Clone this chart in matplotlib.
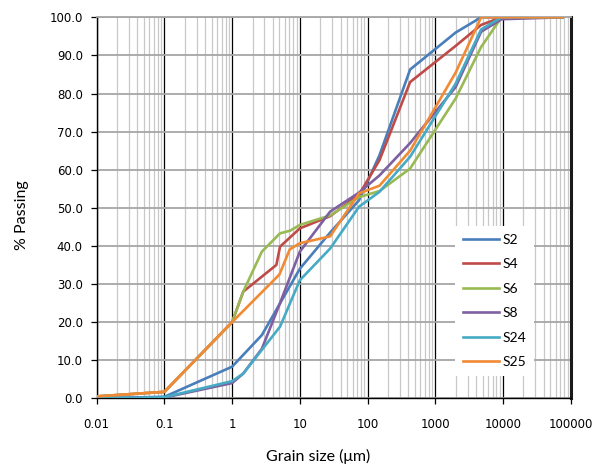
import numpy as np
import matplotlib.pyplot as plt
from matplotlib.ticker import LogLocator, FixedLocator, NullFormatter

# --- grading curves: grain size (um) vs % passing ---
x_s2 = [0.01, 0.1, 1, 2.75, 10, 28, 75, 150, 425, 2000, 4750, 9500, 75000]
y_s2 = [0.0, 0.4, 8.3, 16.6, 34.0, 43.5, 52.0, 63.8, 86.3, 96.0, 100, 100, 100]

x_s4 = [0.01, 0.1, 1, 1.46, 4.5, 5.1, 10, 28, 75, 150, 425, 2000, 4750, 9500, 75000]
y_s4 = [0.5, 1.7, 20.0, 28.0, 35.0, 39.8, 44.6, 47.8, 53.5, 62.5, 83.0, 92.5, 98.0, 100, 100]

x_s6 = [0.01, 0.1, 1, 1.46, 2.75, 5.1, 7.2, 10, 28, 75, 150, 425, 2000, 4750, 9500, 75000]
y_s6 = [0.5, 1.7, 20.0, 28.0, 38.5, 43.3, 44.0, 45.5, 48.0, 52.8, 54.4, 60.3, 78.7, 92.2, 100, 100]

x_s8 = [0.01, 0.1, 1, 1.46, 2.75, 5.1, 10, 28, 75, 150, 425, 2000, 4750, 9500, 75000]
y_s8 = [0.0, 0.2, 4.0, 6.5, 13.0, 25.0, 38.5, 49.0, 54.0, 58.5, 67.0, 81.7, 96.2, 99.5, 100]

x_s24 = [0.01, 0.1, 1, 1.46, 5.1, 10, 28, 75, 150, 425, 2000, 4750, 9500, 75000]
y_s24 = [0.0, 0.3, 4.5, 6.5, 18.8, 31.0, 39.3, 50.3, 54.2, 63.4, 82.6, 96.8, 100, 100]

x_s25 = [0.01, 0.1, 1, 5.0, 7.1, 10, 28, 75, 150, 425, 2000, 4750, 75000]
y_s25 = [0.5, 1.7, 20.0, 32.5, 39.1, 40.7, 42.5, 53.8, 55.8, 65.0, 85.5, 100, 100]

names = ['S2', 'S4', 'S6', 'S8', 'S24', 'S25']
colors = ['#4A7EBB', '#BE4B48', '#98B954', '#7E5FA0', '#46AAC5', '#F08A34']
series = [(x_s2, y_s2), (x_s4, y_s4), (x_s6, y_s6),
          (x_s8, y_s8), (x_s24, y_s24), (x_s25, y_s25)]

fig = plt.figure(figsize=(5.96, 4.65), dpi=100)
ax = fig.add_axes([0.1622, 0.1434, 0.7954, 0.8194])

for (xs, ys), name, c in zip(series, names, colors):
    ax.plot(xs, ys, color=c, lw=1.9, label=name, zorder=3)

ax.set_xscale('log')
ax.set_xlim(0.01, 100000)
ax.set_ylim(0, 100)

# decade lines black, sub-decade lines light grey, % lines mid grey
ax.xaxis.set_major_locator(LogLocator(base=10, numticks=20))
ax.xaxis.set_minor_locator(LogLocator(base=10, subs=np.arange(2, 10), numticks=20))
ax.xaxis.set_minor_formatter(NullFormatter())
ax.set_xticks([0.01, 0.1, 1, 10, 100, 1000, 10000, 100000])
ax.set_xticklabels(['0.01', '0.1', '1', '10', '100', '1000', '10000', '100000'])
ax.yaxis.set_major_locator(FixedLocator(np.arange(0, 101, 10)))
ax.set_yticklabels([f'{v:.1f}' for v in np.arange(0, 101, 10)])

ax.grid(which='minor', axis='x', color='#C8C8C8', lw=0.9, zorder=0)
ax.grid(which='major', axis='x', color='black', lw=0.9, zorder=1)
ax.grid(which='major', axis='y', color='#A6A6A6', lw=1.3, zorder=1)
ax.set_axisbelow(True)

for side in ['left', 'bottom']:
    ax.spines[side].set_color('black')
    ax.spines[side].set_linewidth(1.0)
ax.spines['top'].set_color('#A6A6A6')
ax.spines['top'].set_linewidth(1.3)
ax.spines['right'].set_color('#1A1A1A')
ax.spines['right'].set_linewidth(2.2)

ax.tick_params(axis='both', which='major', direction='out', length=4,
               width=0.9, labelsize=8.5, colors='black')
ax.tick_params(axis='x', which='major', pad=10)
ax.tick_params(axis='x', which='minor', length=0)
ax.tick_params(axis='y', pad=6)

fig.text(318 / 596, 1 - 456 / 465, 'Grain size (\u03bcm)', ha='center', va='center',
         fontsize=11.5, family=['Lato', 'DejaVu Sans'])
fig.text(22 / 596, 1 - 215 / 465, '% Passing', ha='center', va='center',
         rotation=90, fontsize=11.5, family=['Lato', 'DejaVu Sans'])

leg = ax.legend(loc='upper left', bbox_to_anchor=(455 / 596, 1 - 226 / 465),
                bbox_transform=fig.transFigure, borderaxespad=0, frameon=True,
                fancybox=False, framealpha=1, edgecolor='none', facecolor='white',
                handlelength=2.6, handletextpad=0.3, labelspacing=0.9,
                borderpad=0.55, prop={'family': 'Lato', 'size': 10})
leg.set_zorder(5)

fig.savefig('out.png', dpi=100)
